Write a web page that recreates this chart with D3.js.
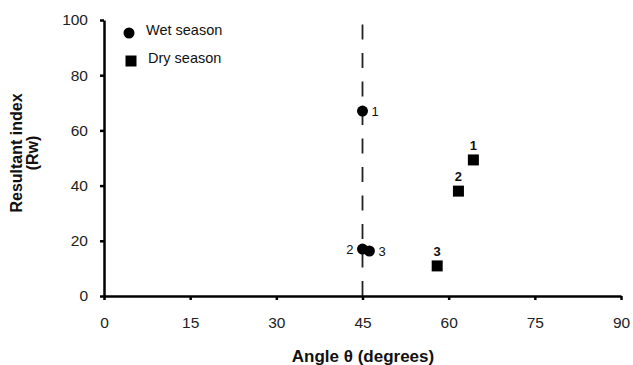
<!DOCTYPE html>
<html>
<head>
<meta charset="utf-8">
<script src="https://cdn.jsdelivr.net/npm/d3@7"></script>
<style>
  body { margin:0; background:#fff; }
  text { font-family:'Liberation Sans', Arial, sans-serif; fill:#111; }
  .axis path, .axis line { stroke:#000; stroke-width:2.5; }
  .axis text { font-size:15.5px; fill:#222; }
</style>
</head>
<body>
<div id="canvas"></div>
<script>
// data
var wetAngle = [45, 45, 46.2],
    wetRw    = [67, 17, 16.3],
    wetLabel = ['1', '2', '3'];
var dryAngle = [64.3, 61.7, 58.0],
    dryRw    = [49.3, 38.0, 10.9],
    dryLabel = ['1', '2', '3'];
var xTicks = [0, 15, 30, 45, 60, 75, 90],
    yTicks = [0, 20, 40, 60, 80, 100];
var refAngle = 45;

var W = 633, H = 365;
var m = {t:20, r:12, b:69, l:104};

var svg = d3.select('#canvas').append('svg')
    .attr('width', W).attr('height', H);

var scaleX = d3.scaleLinear().domain([0, 90]).range([m.l, W - m.r]);
var scaleY = d3.scaleLinear().domain([0, 100]).range([H - m.b, m.t]);

// dashed reference line at 45 degrees
svg.append('line')
    .attr('x1', scaleX(refAngle)).attr('x2', scaleX(refAngle))
    .attr('y1', scaleY(0)).attr('y2', scaleY(100))
    .style('stroke', '#222').style('stroke-width', 1.8)
    .style('stroke-dasharray', '15,13.5');

// axes
svg.append('g').attr('class', 'axis axis-x')
    .attr('transform', 'translate(0,' + scaleY(0) + ')')
    .call(d3.axisBottom(scaleX).tickValues(xTicks).tickSize(4).tickSizeOuter(0).tickPadding(17));
svg.append('g').attr('class', 'axis axis-y')
    .attr('transform', 'translate(' + scaleX(0) + ',0)')
    .call(d3.axisLeft(scaleY).tickValues(yTicks).tickSize(4).tickSizeOuter(0).tickPadding(12));

// axis titles
svg.append('text')
    .attr('x', 363).attr('y', 362)
    .attr('text-anchor', 'middle')
    .style('font-size', '17px').style('font-weight', 'bold')
    .text('Angle θ (degrees)');

var yt = svg.append('text')
    .attr('transform', 'translate(0,153) rotate(-90)')
    .attr('text-anchor', 'middle')
    .style('font-size', '16px').style('font-weight', 'bold');
yt.append('tspan').attr('x', 0).attr('y', 22).text('Resultant index');
yt.append('tspan').attr('x', 0).attr('y', 38).text('(Rw)');

// wet season: circles
var wet = wetAngle.map(function(a, i){ return {a:a, r:wetRw[i], lab:wetLabel[i]}; });
var dry = dryAngle.map(function(a, i){ return {a:a, r:dryRw[i], lab:dryLabel[i]}; });

svg.selectAll('.wet').data(wet).enter().append('circle')
    .attr('class', 'wet')
    .attr('cx', function(d){ return scaleX(d.a); })
    .attr('cy', function(d){ return scaleY(d.r); })
    .attr('r', 5.5)
    .style('fill', '#000');

svg.selectAll('.wet-lab').data(wet).enter().append('text')
    .attr('class', 'wet-lab')
    .attr('x', function(d){ return d.lab == '2' ? scaleX(d.a) - 9 : scaleX(d.a) + 9; })
    .attr('y', function(d){ return scaleY(d.r) + 5; })
    .attr('text-anchor', function(d){ return d.lab == '2' ? 'end' : 'start'; })
    .style('font-size', '13px')
    .text(function(d){ return d.lab; });

// dry season: squares
svg.selectAll('.dry').data(dry).enter().append('rect')
    .attr('class', 'dry')
    .attr('x', function(d){ return scaleX(d.a) - 5.5; })
    .attr('y', function(d){ return scaleY(d.r) - 5.5; })
    .attr('width', 11).attr('height', 11)
    .style('fill', '#000');

svg.selectAll('.dry-lab').data(dry).enter().append('text')
    .attr('class', 'dry-lab')
    .attr('x', function(d){ return scaleX(d.a); })
    .attr('y', function(d){ return scaleY(d.r) - 10; })
    .attr('text-anchor', 'middle')
    .style('font-size', '13px').style('font-weight', 'bold')
    .text(function(d){ return d.lab; });

// legend
svg.append('circle').attr('cx', 129).attr('cy', 33).attr('r', 5.5).style('fill', '#000');
svg.append('text').attr('x', 146).attr('y', 35).style('font-size', '14.5px').text('Wet season');
svg.append('rect').attr('x', 125.5).attr('y', 55.5).attr('width', 11).attr('height', 11).style('fill', '#000');
svg.append('text').attr('x', 148).attr('y', 63).style('font-size', '14.5px').text('Dry season');
</script>
</body>
</html>
